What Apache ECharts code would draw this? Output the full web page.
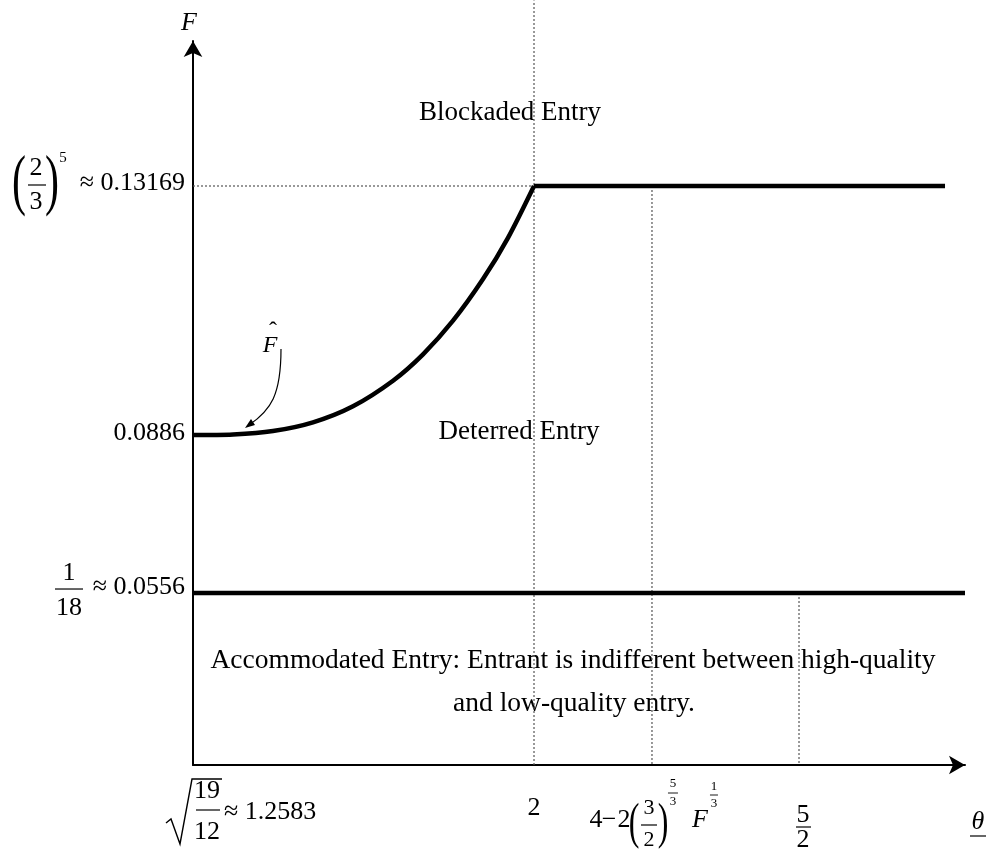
<!DOCTYPE html>
<html>
<head>
<meta charset="utf-8">
<script src="https://cdn.jsdelivr.net/npm/echarts@6/dist/echarts.min.js"></script>
<style>
  html, body { margin: 0; background: #fff; }
  #main { width: 987px; height: 849px; }
</style>
</head>
<body>
<div id="main"></div>
<script>
// values (schematic, so both axes get a break to mimic the uneven spacing)
const thetaTicks = [1.2583, 2, 2.2226, 2.5];       // sqrt(19/12), 2, 4-2(3/2)^(5/3)F^(1/3), 5/2
const fTicks = [0.0556, 0.0886, 0.13169];           // 1/18, F-hat at origin, (2/3)^5
const curveTheta = [1.2583, 1.4321, 1.5075, 1.583, 1.6585, 1.734, 1.7906, 1.8472, 1.9038, 1.9509, 2];
const curveF = [0.0886, 0.0887, 0.08929, 0.0908, 0.09358, 0.098, 0.10256, 0.10838, 0.11558, 0.12272, 0.13169];
const blockadeTheta = [2, 2.7755];
const accommodateTheta = [1.2583, 2.8132];
const thetaRange = [1.2583, 2.8132];
const fRange = [0.02584, 0.15678];
const fTop = 0.1638;

const FONT = "'Liberation Serif', 'Times New Roman', serif";
const dotted = { color: '#555', width: 1.2, type: [2, 2] };
const thick = { color: '#000', width: 4.5 };

function seg(a, b) { return { type: 'line', data: [a, b], symbol: 'none', lineStyle: dotted, clip: false, silent: true }; }

const option = {
  animation: false,
  backgroundColor: '#fff',
  grid: { left: 193, right: 22, top: 41, bottom: 84 },
  xAxis: {
    type: 'value', min: thetaRange[0], max: thetaRange[1],
    breaks: [{ start: 1.27, end: 1.3683, gap: 0 }],
    breakArea: { show: false },
    axisLine: { lineStyle: { color: '#000', width: 2 }, symbol: ['none', 'arrow'], symbolSize: [14, 16] },
    axisTick: { show: false }, axisLabel: { show: false }, splitLine: { show: false }
  },
  yAxis: {
    type: 'value', min: fRange[0], max: fRange[1],
    breaks: [{ start: 0.062, end: 0.06766, gap: 0 }],
    breakArea: { show: false },
    axisLine: { lineStyle: { color: '#000', width: 2 }, symbol: ['none', 'arrow'], symbolSize: [14, 16] },
    axisTick: { show: false }, axisLabel: { show: false }, splitLine: { show: false }
  },
  series: [
    seg([thetaTicks[1], fRange[0]], [thetaTicks[1], fTop]),
    seg([thetaTicks[0], fTicks[2]], [thetaTicks[1], fTicks[2]]),
    seg([thetaTicks[2], fTicks[2]], [thetaTicks[2], fRange[0]]),
    seg([thetaTicks[3], fTicks[0]], [thetaTicks[3], fRange[0]]),
    {
      type: 'line', symbol: 'none', smooth: 0.3,
      data: curveTheta.map((t, i) => [t, curveF[i]]), lineStyle: thick
    },
    { type: 'line', symbol: 'none', data: blockadeTheta.map(t => [t, fTicks[2]]), lineStyle: thick },
    { type: 'line', symbol: 'none', data: accommodateTheta.map(t => [t, fTicks[0]]), lineStyle: thick }
  ]
};

const chart = echarts.init(document.getElementById('main'));
chart.setOption(option);
const px = (t, f) => chart.convertToPixel({ gridIndex: 0 }, [t, f]);

function T(x, y, s, size, o) {
  o = o || {};
  return {
    type: 'text', x: x, y: y, scaleY: o.scaleY || 1, silent: true,
    style: {
      text: s, fontSize: size, fontFamily: FONT, fontStyle: o.italic ? 'italic' : 'normal',
      fill: '#000', align: o.align || 'center', verticalAlign: 'middle'
    }
  };
}
function L(x1, y1, x2, y2, w) {
  return { type: 'line', silent: true, shape: { x1, y1, x2, y2 }, style: { stroke: '#000', lineWidth: w || 1.2 } };
}

const g = [];
const ox = px(thetaRange[0], fRange[0])[0];
const oy = px(thetaRange[0], fRange[0])[1];
const endX = px(thetaRange[1], fRange[0])[0];

// y-axis name
g.push(T(ox - 4, 23, 'F', 26, { italic: true }));

// (2/3)^5 ≈ 0.13169
let y = px(thetaRange[0], fTicks[2])[1];
g.push(T(ox - 8, y - 3, '≈ 0.13169', 26, { align: 'right' }));
g.push(T(19, y - 2, '(', 42, { scaleY: 1.6 }));
g.push(T(52, y - 2, ')', 42, { scaleY: 1.6 }));
g.push(T(36, y - 18, '2', 26));
g.push(T(36, y + 16, '3', 26));
g.push(L(28, y - 1, 46, y - 1));
g.push(T(63, y - 28, '5', 15));

// 0.0886
y = px(thetaRange[0], fTicks[1])[1];
g.push(T(ox - 8, y - 2, '0.0886', 26, { align: 'right' }));

// 1/18 ≈ 0.0556
y = px(thetaRange[0], fTicks[0])[1];
g.push(T(69, y - 20, '1', 26));
g.push(L(55, y - 4, 83, y - 4));
g.push(T(69, y + 15, '18', 26));
g.push(T(ox - 8, y - 6, '≈ 0.0556', 26, { align: 'right' }));

// sqrt(19/12) ≈ 1.2583
let x = px(thetaTicks[0], fRange[0])[0];
g.push({
  type: 'polyline', silent: true,
  shape: { points: [[x - 27, oy + 58], [x - 22, oy + 54], [x - 13, oy + 79], [x - 1, oy + 14], [x + 29, oy + 14]] },
  style: { stroke: '#000', lineWidth: 1.4, fill: null }
});
g.push(T(x + 14, oy + 26, '19', 26));
g.push(L(x + 3, oy + 45, x + 27, oy + 45));
g.push(T(x + 14, oy + 67, '12', 26));
g.push(T(x + 31, oy + 47, '≈ 1.2583', 26, { align: 'left' }));

// 2
x = px(thetaTicks[1], fRange[0])[0];
g.push(T(x, oy + 43, '2', 26));

// 4 - 2(3/2)^(5/3) F^(1/3)
x = px(thetaTicks[2], fRange[0])[0];
g.push(T(x - 56, oy + 55, '4', 26));
g.push(T(x - 43, oy + 55, '−', 26));
g.push(T(x - 28, oy + 55, '2', 26));
g.push(T(x - 18, oy + 60, '(', 32, { scaleY: 1.6 }));
g.push(T(x - 3, oy + 43, '3', 22));
g.push(L(x - 11, oy + 60, x + 5, oy + 60));
g.push(T(x - 3, oy + 75, '2', 22));
g.push(T(x + 11, oy + 60, ')', 32, { scaleY: 1.6 }));
g.push(T(x + 21, oy + 19, '5', 13));
g.push(L(x + 16, oy + 28, x + 26, oy + 28, 0.9));
g.push(T(x + 21, oy + 37, '3', 13));
g.push(T(x + 48, oy + 55, 'F', 26, { italic: true }));
g.push(T(x + 62, oy + 22, '1', 13));
g.push(L(x + 58, oy + 30, x + 66, oy + 30, 0.9));
g.push(T(x + 62, oy + 39, '3', 13));

// 5/2
x = px(thetaTicks[3], fRange[0])[0];
g.push(T(x + 4, oy + 50, '5', 26));
g.push(L(x - 3, oy + 62, x + 12, oy + 62));
g.push(T(x + 4, oy + 75, '2', 26));

// theta, underlined
g.push(T(endX + 13, oy + 57, 'θ', 26, { italic: true }));
g.push(L(endX + 5, oy + 71, endX + 21, oy + 71));

// region labels
g.push(T(510, 113, 'Blockaded Entry', 27));
g.push(T(519, 432, 'Deterred Entry', 27));
g.push(T(573, 661, 'Accommodated Entry: Entrant is indifferent between high-quality', 27.5));
g.push(T(574, 704, 'and low-quality entry.', 27.5));

// F-hat with pointer to the curve
const p0 = px(curveTheta[0], curveF[0]);
const ax = p0[0], ay = p0[1];
g.push(T(ax + 77, ay - 89, 'F', 24, { italic: true }));
g.push(T(ax + 80, ay - 103, 'ˆ', 24));
g.push({
  type: 'bezierCurve', silent: true,
  shape: { x1: ax + 88, y1: ay - 86, cpx1: ax + 88, cpy1: ay - 40, cpx2: ax + 78, cpy2: ay - 25, x2: ax + 56, y2: ay - 10 },
  style: { stroke: '#000', lineWidth: 1.2, fill: null }
});
g.push({
  type: 'polygon', silent: true,
  shape: { points: [[ax + 52, ay - 7], [ax + 62, ay - 10], [ax + 58, ay - 16]] },
  style: { fill: '#000' }
});

chart.setOption({ graphic: g });
</script>
</body>
</html>
